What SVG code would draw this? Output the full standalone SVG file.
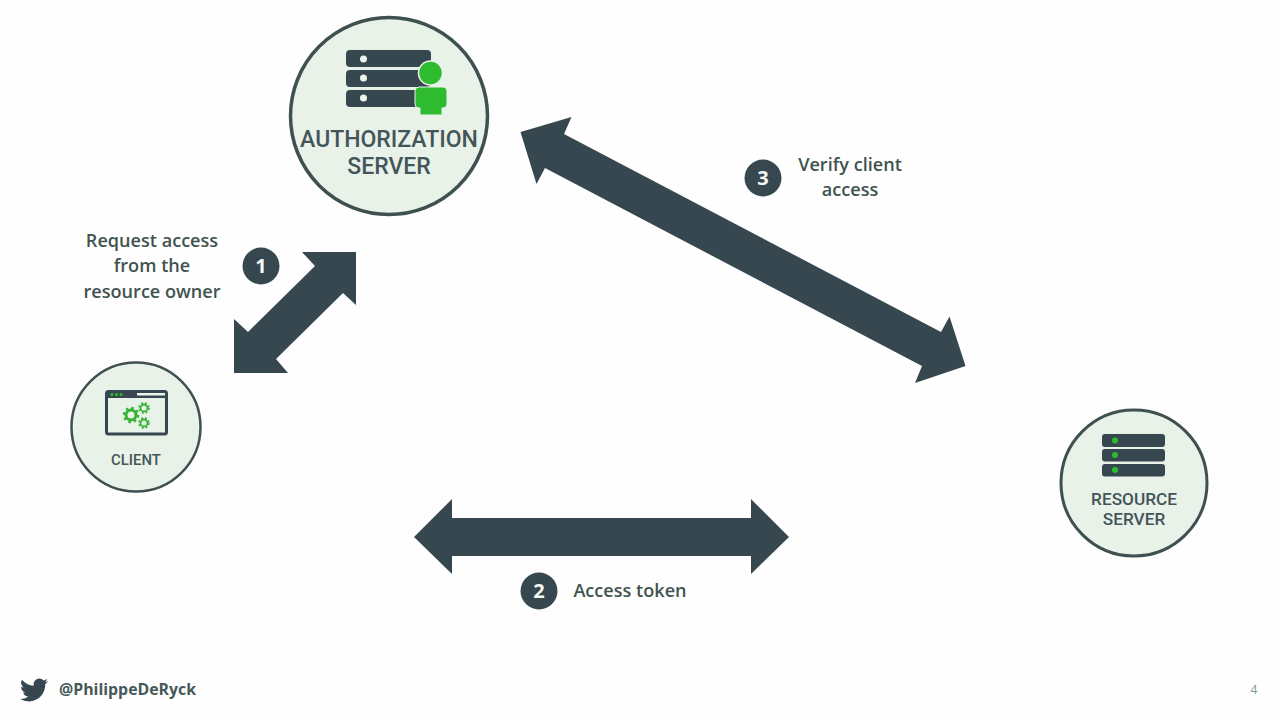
<svg xmlns="http://www.w3.org/2000/svg" width="1280" height="720" viewBox="0 0 1280 720">
<style>
.ring{fill:#e9f2e8;stroke:#3f5050}
.dark{fill:#36474f}
.nlabel{font-family:Roboto,"Liberation Sans",sans-serif;font-weight:500;fill:#44555a;text-anchor:middle}
.label{font-family:"Open Sans","Liberation Sans",sans-serif;font-weight:600;font-size:18.100px;fill:#41534f;text-anchor:middle}
.num{font-family:"Open Sans","Liberation Sans",sans-serif;font-weight:700;font-size:20px;fill:#f4f7f4;text-anchor:middle}
.green{fill:#2fbb2f}
.gear{fill:none;stroke:#35b535}
</style>
<rect width="1280" height="720" fill="#fefefe"/>
<g id="connectors" class="dark">
<polygon id="arrow-1" points="356,252 302,252 315,266 248,332 234,319 234,373 288,373 276,359 343,293 356,305"/>
<polygon id="arrow-2" points="414,537 452,499 452,518 751,518 751,499 789,537 751,574 751,556 452,556 452,574"/>
<polygon id="arrow-3" points="520.5,132 571.5,117 564,134 941,332 949.5,316.5 965.5,366 915,383 922,366 545,168 536.5,184"/>
</g>
<g id="authorization-server">
<circle class="ring" cx="389" cy="116" r="98.500" stroke-width="3.500"/>
<rect class="dark" x="346" y="50" width="85" height="17" rx="4"/>
<rect class="dark" x="346" y="70" width="85" height="17" rx="4"/>
<rect class="dark" x="346" y="90" width="85" height="17" rx="4"/>
<circle cx="363.500" cy="59" r="3.500" fill="#eef4ee"/>
<circle cx="363.500" cy="78" r="3.500" fill="#eef4ee"/>
<circle cx="363.500" cy="98" r="3.500" fill="#eef4ee"/>
<circle class="green" cx="430.500" cy="73" r="12" stroke="#e9f2e8" stroke-width="1.500"/>
<path class="green" d="M419 87H443Q447 87 447 91V104Q447 108 443 108H442V115H420V108H419Q415 108 415 104V91Q415 87 419 87Z" stroke="#e9f2e8" stroke-width="1"/>
<text class="nlabel" x="389" y="147" font-size="23">AUTHORIZATION</text>
<text class="nlabel" x="389" y="174" font-size="23">SERVER</text>
</g>
<g id="client">
<circle class="ring" cx="136" cy="427" r="64.500" stroke-width="2.500"/>
<rect x="106.500" y="391.500" width="60" height="42.500" rx="2" fill="#e9f2e8" stroke="#36474f" stroke-width="3"/>
<rect class="dark" x="106" y="391" width="61" height="7"/>
<rect x="137" y="393" width="28" height="2.500" fill="#eef4ee"/>
<circle class="green" cx="112" cy="394.500" r="1.600"/>
<circle class="green" cx="116.500" cy="394.500" r="1.600"/>
<circle class="green" cx="121" cy="394.500" r="1.600"/>
<circle class="gear" cx="131" cy="415" r="5" stroke-width="3"/>
<circle class="gear" cx="131" cy="415" r="7" stroke-width="2.500" stroke-dasharray="2.500 3"/>
<circle class="gear" cx="144" cy="408" r="3.500" stroke-width="1.800"/>
<circle class="gear" cx="144" cy="408" r="5" stroke-width="1.500" stroke-dasharray="2 2"/>
<circle class="gear" cx="144" cy="423" r="3.500" stroke-width="1.800"/>
<circle class="gear" cx="144" cy="423" r="5" stroke-width="1.500" stroke-dasharray="2 2"/>
<text class="nlabel" x="136" y="465" font-size="14.900">CLIENT</text>
</g>
<g id="resource-server">
<circle class="ring" cx="1134" cy="483" r="73" stroke-width="3"/>
<rect class="dark" x="1102" y="434" width="63" height="13" rx="3"/>
<rect class="dark" x="1102" y="449" width="63" height="12.500" rx="3"/>
<rect class="dark" x="1102" y="464" width="63" height="12.500" rx="3"/>
<circle class="green" cx="1115" cy="440.500" r="3"/>
<circle class="green" cx="1115" cy="455" r="3"/>
<circle class="green" cx="1115" cy="470" r="3"/>
<text class="nlabel" x="1134" y="505" font-size="17.200">RESOURCE</text>
<text class="nlabel" x="1134" y="525" font-size="17.200">SERVER</text>
</g>
<g id="step-1">
<circle class="dark" cx="261" cy="266" r="18.500"/>
<text class="num" x="261" y="273">1</text>
<text class="label" x="152" y="247">Request access</text>
<text class="label" x="152" y="272">from the</text>
<text class="label" x="152" y="298">resource owner</text>
</g>
<g id="step-2">
<circle class="dark" cx="539" cy="591" r="18.500"/>
<text class="num" x="539" y="598">2</text>
<text class="label" x="630" y="597">Access token</text>
</g>
<g id="step-3">
<circle class="dark" cx="763" cy="178" r="18.500"/>
<text class="num" x="763" y="185">3</text>
<text class="label" x="850" y="171">Verify client</text>
<text class="label" x="850" y="196">access</text>
</g>
<g id="footer">
<path class="dark" transform="translate(20 676) scale(1.170)" d="M23.953 4.57a10 10 0 01-2.825.775 4.958 4.958 0 002.163-2.723c-.951.555-2.005.959-3.127 1.184a4.92 4.92 0 00-8.384 4.482C7.69 8.095 4.067 6.13 1.64 3.162a4.822 4.822 0 00-.666 2.475c0 1.71.87 3.213 2.188 4.096a4.904 4.904 0 01-2.228-.616v.06a4.923 4.923 0 003.946 4.827 4.996 4.996 0 01-2.212.085 4.936 4.936 0 004.604 3.417 9.867 9.867 0 01-6.102 2.105c-.39 0-.779-.023-1.17-.067a13.995 13.995 0 007.557 2.209c9.053 0 13.998-7.496 13.998-13.985 0-.21 0-.42-.015-.63A9.935 9.935 0 0024 4.59z"/>
<text x="59" y="695" font-family="'Open Sans','Liberation Sans',sans-serif" font-weight="700" font-size="15.850" fill="#46585a">@PhilippeDeRyck</text>
<text x="1254" y="694" font-family="'Open Sans','Liberation Sans',sans-serif" font-size="12" fill="#7f9a8a" text-anchor="middle">4</text>
</g>
</svg>
